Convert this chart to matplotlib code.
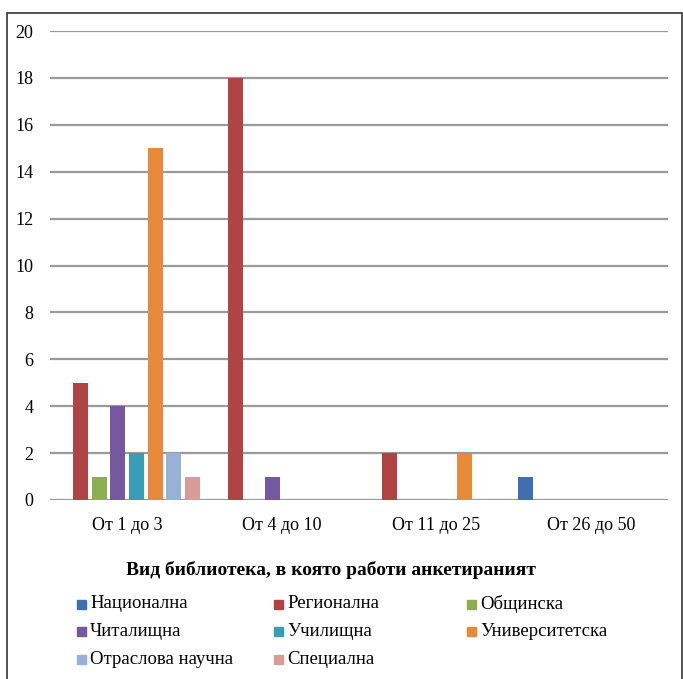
import numpy as np
import matplotlib.pyplot as plt
from matplotlib.patches import Rectangle

plt.rcParams['font.family'] = ['Liberation Serif', 'DejaVu Serif']

categories = ['От 1 до 3', 'От 4 до 10', 'От 11 до 25', 'От 26 до 50']
series = ['Национална', 'Регионална', 'Общинска', 'Читалищна',
          'Училищна', 'Университетска', 'Отраслова научна', 'Специална']
values = [
    [0, 0, 0, 1],
    [5, 18, 2, 0],
    [1, 0, 0, 0],
    [4, 1, 0, 0],
    [2, 0, 0, 0],
    [15, 0, 2, 0],
    [2, 0, 0, 0],
    [1, 0, 0, 0],
]
colors = ['#3f6fb0', '#b04445', '#8cb04f', '#7558a0',
          '#3a9db8', '#e8883a', '#97b1d8', '#d99a9a']
yticks = [0, 2, 4, 6, 8, 10, 12, 14, 16, 18, 20]
title = 'Вид библиотека, в която работи анкетираният'

W, H = 683, 679
fig = plt.figure(figsize=(W / 100, H / 100), dpi=100)

# plot area in pixels: x 50..668, y 31..500
ax = fig.add_axes([50 / W, 1 - 500 / H, 618 / W, 469 / H])

x = np.arange(len(categories))
step = 0.12
width = 0.097
for i, name in enumerate(series):
    ax.bar(x + (i - 3.5) * step, values[i], width, color=colors[i], zorder=3)

ax.set_xlim(-0.5, len(categories) - 0.5)
ax.set_ylim(0, 20)
ax.set_yticks(yticks)
ax.set_xticks(x)
ax.set_xticklabels(categories)
ax.tick_params(length=0, labelsize=13)
ax.tick_params(axis='y', pad=12)
ax.tick_params(axis='x', pad=12)
ax.grid(axis='y', color='#9a9a9a', linewidth=1.6, zorder=0)
for s in ax.spines.values():
    s.set_visible(False)

# outer frame
fig.patches.append(Rectangle((7 / W, -0.01), 675 / W, 1 - 13 / H + 0.01,
                             transform=fig.transFigure, fill=False,
                             edgecolor='#333333', linewidth=1.2))

fig.text(331 / W, 1 - 570 / H, title, ha='center', va='center',
         fontsize=14, fontweight='bold')

# legend, three entries per row
col_x = [77, 274, 467]
row_y = [604, 631, 659]
for i, name in enumerate(series):
    r, c = divmod(i, 3)
    fig.patches.append(Rectangle((col_x[c] / W, 1 - (row_y[r] + 4.5) / H),
                                 9 / W, 9 / H, transform=fig.transFigure,
                                 color=colors[i]))
    fig.text((col_x[c] + 13) / W, 1 - row_y[r] / H, name,
             ha='left', va='center', fontsize=13.5)

fig.savefig('out.png', dpi=100)
